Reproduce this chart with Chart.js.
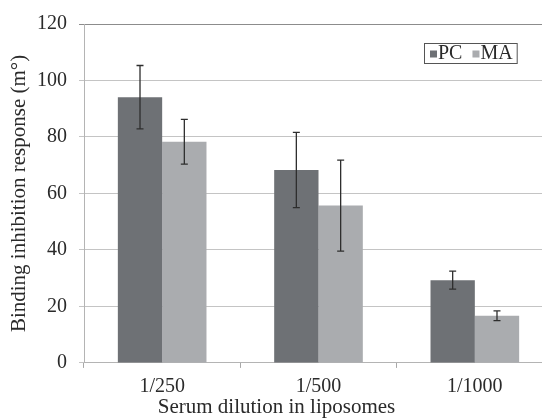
<!DOCTYPE html>
<html>
<head>
<meta charset="utf-8">
<script src="https://cdn.jsdelivr.net/npm/chart.js@4/dist/chart.umd.min.js"></script>
<style>
html,body{margin:0;padding:0;background:#fff;}
#wrap{width:542px;height:419px;overflow:hidden;position:relative;}
canvas{display:block;}
</style>
</head>
<body>
<div id="wrap"><canvas id="c" width="556" height="419"></canvas></div>
<script>
const categories = ['1/250', '1/500', '1/1000'];
const seriesNames = ['PC', 'MA'];
const pcValues = [94.1, 68.3, 29.3];
const pcErrors = [11.2, 13.3, 3.2];
const maValues = [78.3, 55.7, 16.7];
const maErrors = [7.9, 16.1, 1.7];
const yMin = 0, yMax = 120, yStep = 20;

const FONT = 'Liberation Serif';
const colors = ['#6e7175', '#aaacaf'];

const errorBars = {
  id: 'errorBars',
  afterDatasetsDraw(chart) {
    const ctx = chart.ctx;
    const y = chart.scales.y;
    ctx.save();
    ctx.strokeStyle = '#2e2e2e';
    ctx.lineWidth = 1.3;
    chart.data.datasets.forEach((ds, di) => {
      const meta = chart.getDatasetMeta(di);
      meta.data.forEach((bar, i) => {
        const v = ds.data[i], e = ds.errors[i];
        const x = bar.x;
        const yt = y.getPixelForValue(v + e);
        const yb = y.getPixelForValue(v - e);
        ctx.beginPath();
        ctx.moveTo(x, yt); ctx.lineTo(x, yb);
        ctx.moveTo(x - 3.5, yt); ctx.lineTo(x + 3.5, yt);
        ctx.moveTo(x - 3.5, yb); ctx.lineTo(x + 3.5, yb);
        ctx.stroke();
      });
    });
    ctx.restore();
  }
};

const boxLegend = {
  id: 'boxLegend',
  afterDraw(chart) {
    const ctx = chart.ctx;
    ctx.save();
    ctx.font = '20px "' + FONT + '"';
    ctx.textBaseline = 'middle';
    const left = 424, top = 43, bottom = 63;
    const cy = (top + bottom) / 2 + 1;
    let x = left + 6;
    chart.data.datasets.forEach((ds) => {
      ctx.fillStyle = ds.backgroundColor;
      ctx.fillRect(x, cy - 3.5, 7, 7);
      x += 8;
      ctx.fillStyle = '#2a2a2a';
      ctx.fillText(ds.label, x, cy);
      x += ctx.measureText(ds.label).width + 10;
    });
    ctx.strokeStyle = '#555';
    ctx.lineWidth = 1;
    ctx.strokeRect(left + 0.5, top + 0.5, x - left - 6, bottom - top);
    ctx.restore();
  }
};

new Chart(document.getElementById('c'), {
  type: 'bar',
  data: {
    labels: categories,
    datasets: [
      { label: seriesNames[0], data: pcValues, errors: pcErrors, backgroundColor: colors[0] },
      { label: seriesNames[1], data: maValues, errors: maErrors, backgroundColor: colors[1] }
    ]
  },
  options: {
    responsive: false,
    animation: false,
    devicePixelRatio: 1,
    layout: { padding: { top: 14, right: 3, left: 0, bottom: 0 } },
    datasets: { bar: { categoryPercentage: 0.567, barPercentage: 1.0 } },
    plugins: {
      legend: { display: false },
      tooltip: { enabled: false },
      title: {
        display: true,
        position: 'bottom',
        text: 'Serum dilution in liposomes',
        color: '#2a2a2a',
        font: { family: FONT, size: 21, weight: 'normal', lineHeight: 1.1 },
        padding: { top: 0, bottom: 0 }
      }
    },
    scales: {
      x: {
        grid: { drawOnChartArea: false, drawTicks: true, tickLength: 5, color: '#a8a8a8', offset: true },
        border: { color: '#b4b4b4', width: 1 },
        ticks: { color: '#2a2a2a', font: { family: FONT, size: 20 }, padding: 7 },
        afterFit(s) { s.height = 33; }
      },
      y: {
        min: yMin, max: yMax,
        ticks: { stepSize: yStep, color: '#2a2a2a', font: { family: FONT, size: 20 }, padding: 12 },
        grid: {
          color: (c) => c.tick && c.tick.value === yMax ? '#8c8c8c' : '#c4c4c4',
          tickLength: 5,
          lineWidth: 1
        },
        border: { color: '#b4b4b4', width: 1 },
        title: {
          display: true,
          text: 'Binding inhibition response (m°)',
          color: '#2a2a2a',
          font: { family: FONT, size: 21 },
          padding: { top: 7, bottom: 0 }
        },
        afterFit(s) { s.width = 84; }
      }
    }
  },
  plugins: [errorBars, boxLegend]
});
</script>
</body>
</html>
